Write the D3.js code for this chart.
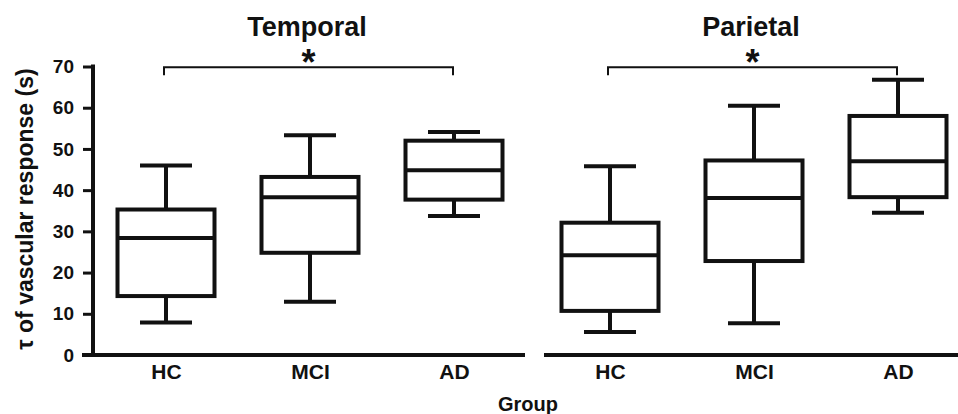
<!DOCTYPE html>
<html>
<head>
<meta charset="utf-8">
<script src="https://cdn.jsdelivr.net/npm/d3@7"></script>
<style>
    body { margin: 0; background: #fff; }
    text { font-family: Arial, "Liberation Sans", sans-serif; font-weight: bold; fill: #111; }
</style>
</head>
<body>
<div id="chart"></div>
<script>
    // groups and panels
    var groups = ['HC', 'MCI', 'AD']
    var regions = ['Temporal', 'Parietal']
    var yTicks = [0, 10, 20, 30, 40, 50, 60, 70]

    // box stats (seconds)
    var temporalMin = [7.9, 12.9, 33.7]
    var temporalQ1 = [14.3, 24.8, 37.7]
    var temporalMedian = [28.4, 38.3, 44.8]
    var temporalQ3 = [35.3, 43.2, 52.0]
    var temporalMax = [46.0, 53.3, 54.1]

    var parietalMin = [5.6, 7.7, 34.5]
    var parietalQ1 = [10.7, 22.8, 38.3]
    var parietalMedian = [24.2, 38.1, 47.0]
    var parietalQ3 = [32.1, 47.2, 58.0]
    var parietalMax = [45.8, 60.5, 66.8]

    // significance bracket HC vs AD in both panels
    var sigPair = ['HC', 'AD']
    var sigLevel = 69.8

    var width = 958
    var height = 414

    var svg = d3.select('#chart')
        .append('svg')
        .attr('width', width)
        .attr('height', height)

    var y = d3.scaleLinear().domain([0, 70]).range([355, 66.5])

    var panels = [
        { name: regions[0], range: [94, 526], line: [82, 525], min: temporalMin, q1: temporalQ1, med: temporalMedian, q3: temporalQ3, max: temporalMax },
        { name: regions[1], range: [538, 970], line: [544, 960], min: parietalMin, q1: parietalQ1, med: parietalMedian, q3: parietalQ3, max: parietalMax }
    ]

    var boxW = 97
    var capW = 52
    var ink = '#111'

    panels.forEach(function (p) {
        var x = d3.scalePoint().domain(groups).range(p.range).padding(0.5)
        var g = svg.append('g')

        // x axis line
        g.append('line')
            .attr('x1', p.line[0]).attr('x2', p.line[1])
            .attr('y1', y(0)).attr('y2', y(0))
            .attr('stroke', ink).attr('stroke-width', 4)

        // category labels
        var xAxis = g.append('g')
            .attr('transform', 'translate(0,' + y(0) + ')')
            .call(d3.axisBottom(x).tickSize(0).tickPadding(9))
        xAxis.select('.domain').remove()
        xAxis.selectAll('text').style('font-size', '21px').attr('dy', '0.71em').attr('fill', ink)

        // title
        g.append('text')
            .attr('x', d3.mean(x.range()) - 3)
            .attr('y', 36)
            .attr('text-anchor', 'middle')
            .style('font-size', '27px')
            .text(p.name)

        // boxes
        groups.forEach(function (grp, i) {
            var cx = x(grp)
            var b = g.append('g').attr('fill', 'none').attr('stroke', ink).attr('stroke-width', 4)
            // whiskers
            b.append('line').attr('x1', cx).attr('x2', cx).attr('y1', y(p.max[i])).attr('y2', y(p.q3[i]))
            b.append('line').attr('x1', cx).attr('x2', cx).attr('y1', y(p.q1[i])).attr('y2', y(p.min[i]))
            b.append('line').attr('x1', cx - capW / 2).attr('x2', cx + capW / 2).attr('y1', y(p.max[i])).attr('y2', y(p.max[i]))
            b.append('line').attr('x1', cx - capW / 2).attr('x2', cx + capW / 2).attr('y1', y(p.min[i])).attr('y2', y(p.min[i]))
            // box
            b.append('rect')
                .attr('x', cx - boxW / 2).attr('width', boxW)
                .attr('y', y(p.q3[i])).attr('height', y(p.q1[i]) - y(p.q3[i]))
                .attr('fill', '#fff')
            b.append('line').attr('x1', cx - boxW / 2).attr('x2', cx + boxW / 2).attr('y1', y(p.med[i])).attr('y2', y(p.med[i]))
        })

        // significance bracket
        var x1 = x(sigPair[0]) - 2
        var x2 = x(sigPair[1]) - 1
        var by = y(sigLevel)
        g.append('path')
            .attr('d', 'M' + x1 + ',' + (by + 8) + 'V' + by + 'H' + x2 + 'V' + (by + 8))
            .attr('fill', 'none').attr('stroke', ink).attr('stroke-width', 2)
        g.append('text')
            .attr('x', (x1 + x2) / 2)
            .attr('y', by + 8)
            .attr('text-anchor', 'middle')
            .style('font-size', '36px')
            .text('*')
    })

    // y axis (left panel only)
    var yAxis = svg.append('g')
        .attr('transform', 'translate(93,0)')
        .call(d3.axisLeft(y).tickValues(yTicks).tickSize(10).tickPadding(9).tickSizeOuter(0))
    yAxis.select('.domain').attr('stroke', ink).attr('stroke-width', 4)
        .attr('d', 'M0,' + (y(70) - 2) + 'V' + y(0))
    yAxis.selectAll('.tick line').attr('stroke', ink).attr('stroke-width', 3)
    yAxis.selectAll('.tick text').style('font-size', '19px').attr('fill', ink)

    // axis titles
    svg.append('text')
        .attr('transform', 'translate(33,209) rotate(-90)')
        .attr('text-anchor', 'middle')
        .style('font-size', '23px')
        .text('τ of vascular response (s)')

    svg.append('text')
        .attr('x', 528)
        .attr('y', 411)
        .attr('text-anchor', 'middle')
        .style('font-size', '20px')
        .text('Group')
</script>
</body>
</html>
